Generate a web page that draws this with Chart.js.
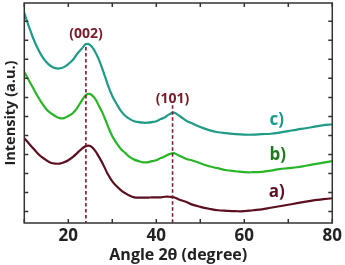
<!DOCTYPE html>
<html><head><meta charset="utf-8">
<script src="https://cdn.jsdelivr.net/npm/chart.js@4/dist/chart.umd.min.js"></script>
<style>html,body{margin:0;padding:0;background:#fff}#wrap{width:345px;height:265px;position:relative}</style>
</head><body><div id="wrap"><canvas id="c"></canvas></div>
<script>
const angles = [10,11,12,13,14,15,16,17,18,19,20,21,22,23,24,25,26,27,28,29,30,31,32,33,34,35,36,37,38,39,40,41,42,43,44,45,46,47,48,50,52,54,56,58,60,62,64,66,68,70,72,74,76,78,80];
const curveA = [486,459,433,407,386,370,357,352,352,359,370,386,407,428,444,444,423,386,344,296,259,233,212,196,183,175,173,173,173,175,175,175,178,178,175,165,157,149,138,125,115,107,104,102,102,107,112,120,128,136,144,152,160,165,170];
const curveB = [833,791,749,707,670,638,617,602,591,591,602,617,644,681,712,717,696,654,607,549,496,459,428,407,386,373,365,359,359,365,370,381,391,402,407,396,386,375,370,354,338,328,317,312,307,307,309,315,323,328,333,341,349,357,365];
const curveC = [1144,1075,1012,959,917,886,865,854,852,859,875,896,928,954,980,975,944,896,833,765,707,665,628,602,586,575,570,567,567,570,575,586,596,612,620,607,591,575,565,544,528,517,512,507,504,504,507,509,515,523,531,538,546,554,559];
const xTickValues = [10,20,30,40,50,60,70,80];
const xTickLabels = ['','20','','40','','60','','80'];
const yTickValues = [100,200,300,400,500,600,700,800,900,1000,1100];
const peakAngles = [24.0, 43.7];
const peakNames = ['(002)','(101)'];
const peakTop = [965, 659];
const peakLabelY = [1035, 694];
const seriesNames = ['a)','b)','c)'];
const seriesLabelX = [67.4, 67.6, 67.4];
const seriesLabelY = [202, 396, 580];

const colA = '#5c0f1f', colB = '#28b628', colC = '#1f9b87';
const labelCols = ['#5c0f22','#1d7a1d','#1a9a88'];
const peakCol = '#7a1a2a';
const FONT = '"Open Sans"';

const mk = (arr) => angles.map((a,i)=>({x:a,y:arr[i]}));

const deco = {
  id:'deco',
  afterDatasetsDraw(chart){
    const {ctx, chartArea:ca, scales:{x,y}} = chart;
    ctx.save();
    ctx.strokeStyle = peakCol; ctx.lineWidth = 1.6; ctx.setLineDash([3.5,2.5]);
    peakAngles.forEach((p,i)=>{
      const px = x.getPixelForValue(p);
      ctx.beginPath(); ctx.moveTo(px, y.getPixelForValue(peakTop[i])); ctx.lineTo(px, ca.bottom); ctx.stroke();
    });
    ctx.setLineDash([]);
    ctx.fillStyle = peakCol; ctx.font = 'bold 14px ' + FONT; ctx.textAlign='center'; ctx.textBaseline='middle';
    peakNames.forEach((n,i)=> ctx.fillText(n, x.getPixelForValue(peakAngles[i]), y.getPixelForValue(peakLabelY[i])));
    ctx.font = 'bold 17px ' + FONT;
    seriesNames.forEach((n,i)=>{ ctx.fillStyle = labelCols[i]; ctx.fillText(n, x.getPixelForValue(seriesLabelX[i]), y.getPixelForValue(seriesLabelY[i])); });
    ctx.strokeStyle = '#333'; ctx.lineWidth = 1.5;
    ctx.strokeRect(ca.left, ca.top, ca.right-ca.left, ca.bottom-ca.top);
    const tl = 4;
    ctx.beginPath();
    xTickValues.forEach(v=>{ const px=x.getPixelForValue(v);
      ctx.moveTo(px, ca.bottom); ctx.lineTo(px, ca.bottom-tl);
      ctx.moveTo(px, ca.top); ctx.lineTo(px, ca.top+tl); });
    yTickValues.forEach(v=>{ const py=y.getPixelForValue(v);
      ctx.moveTo(ca.left, py); ctx.lineTo(ca.left+tl, py);
      ctx.moveTo(ca.right, py); ctx.lineTo(ca.right-tl, py); });
    ctx.stroke();
    ctx.restore();
  }
};

new Chart(document.getElementById('c'), {
  type:'line',
  data:{datasets:[
    {label:'c)', data:mk(curveC), borderColor:colC, borderWidth:2.2, pointRadius:0, tension:0.4, fill:false},
    {label:'b)', data:mk(curveB), borderColor:colB, borderWidth:2.2, pointRadius:0, tension:0.4, fill:false},
    {label:'a)', data:mk(curveA), borderColor:colA, borderWidth:2.2, pointRadius:0, tension:0.4, fill:false}
  ]},
  options:{
    responsive:true, maintainAspectRatio:false, animation:false,
    layout:{padding:{top:3,right:12,left:0,bottom:0}},
    plugins:{legend:{display:false}, tooltip:{enabled:false}},
    scales:{
      x:{type:'linear', min:10, max:80,
        afterBuildTicks: s => { s.ticks = xTickValues.map(v=>({value:v})); },
        afterFit: s => { s.height = 42; },
        ticks:{autoSkip:false, maxRotation:0, padding:3, color:'#222', font:{family:FONT, size:17, weight:'bold'},
          callback:(v)=> xTickLabels[xTickValues.indexOf(v)] ?? ''},
        grid:{display:false, drawTicks:false, tickLength:0}, border:{display:false},
        title:{display:true, text:'Angle 2θ (degree)', color:'#222', font:{family:FONT, size:16, weight:'bold'}, padding:{top:0,bottom:0}}
      },
      y:{type:'linear', min:40, max:1196,
        afterBuildTicks: s => { s.ticks = yTickValues.map(v=>({value:v})); },
        afterFit: s => { s.width = 24.3; },
        ticks:{display:false}, grid:{display:false, drawTicks:false, tickLength:0}, border:{display:false},
        title:{display:true, text:'Intensity (a.u.)', color:'#222', font:{family:FONT, size:14.5, weight:'bold'}, padding:{top:2,bottom:0}}
      }
    }
  },
  plugins:[deco]
});
</script></body></html>
